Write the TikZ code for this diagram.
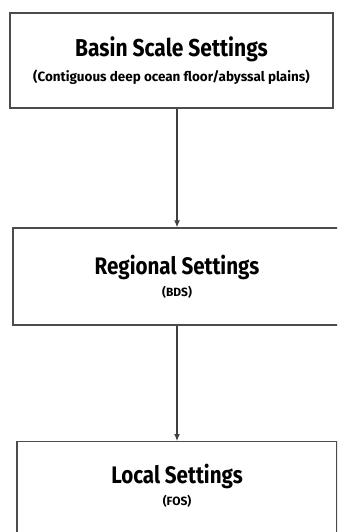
\documentclass[tikz,border=0pt]{standalone}
\usepackage{fontspec}
\setmainfont{Fira Sans}[FakeStretch=0.86]
\newfontfamily\subfont{Fira Sans}
\usetikzlibrary{arrows.meta,positioning}

\begin{document}
\begin{tikzpicture}[>={Latex[length=7bp,width=6bp]},x=1bp,y=-1bp]
  \tikzstyle{block}=[draw=black!70,line width=1.4bp,fill=white,align=center,inner sep=0pt]

  \useasboundingbox (0,0) rectangle (337,532);
  \clip (0,0) rectangle (337,532);

  % Boxes
  \node[block,minimum width=323bp,minimum height=95bp] (basin) at (171.5,60.5)
    {{\bfseries\fontsize{24.5}{24}\selectfont Basin Scale Settings}\\[7bp]
     {\subfont\bfseries\fontsize{13.5}{13}\selectfont (Contiguous deep ocean floor/abyssal plains)}};
  \node[block,minimum width=328bp,minimum height=97bp] (regional) at (177,276.5)
    {{\bfseries\fontsize{24}{24}\selectfont Regional Settings}\\[5bp]
     {\subfont\bfseries\fontsize{12}{12}\selectfont (BDS)}};
  \node[block,minimum width=320bp,minimum height=100bp,anchor=north] (local) at (177,441)
    {{\bfseries\fontsize{24}{24}\selectfont Local Settings}\\[5bp]
     {\subfont\bfseries\fontsize{12}{12}\selectfont (FOS)}\\[2bp]};

  % Arrows
  \draw[->,black!75,line width=1.2bp] (basin.south -| regional.north) -- (regional.north);
  \draw[->,black!75,line width=1.2bp] (regional) -- (local);

\end{tikzpicture}
\end{document}
